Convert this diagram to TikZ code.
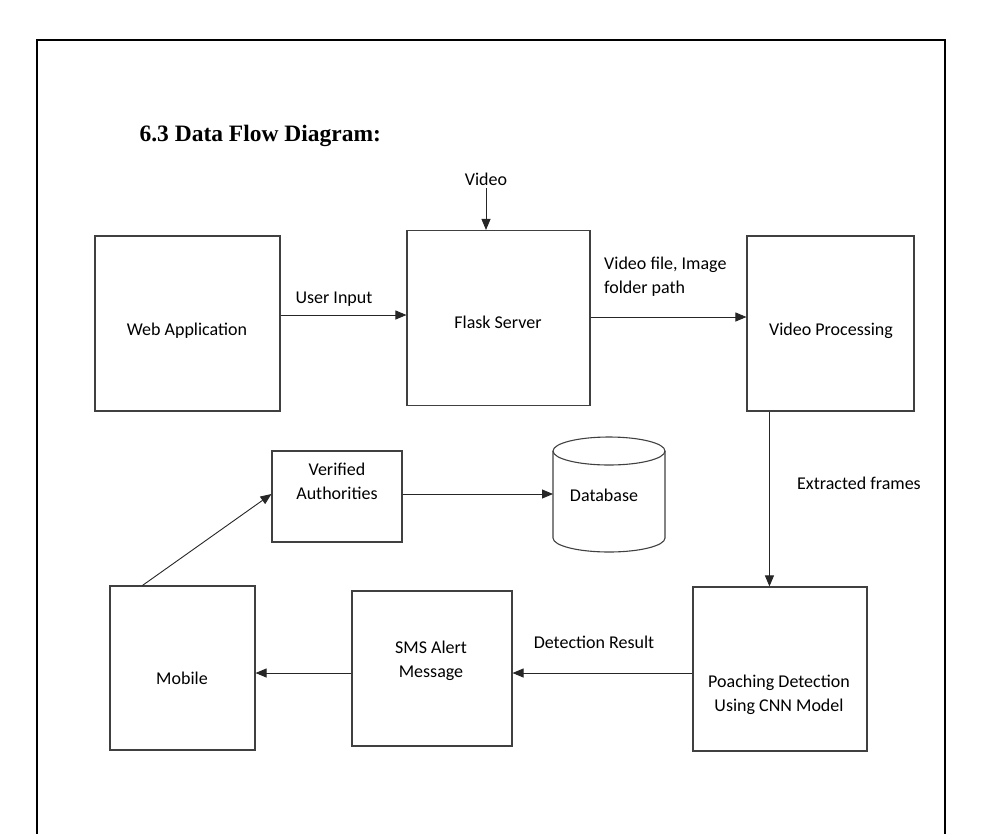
\documentclass[tikz,border=0pt]{standalone}
\usepackage{fontspec}
\setmainfont{Carlito}
\newfontfamily\titlefont{Liberation Serif}
\usetikzlibrary{arrows.meta}

\begin{document}
\begin{tikzpicture}[x=1pt,y=-1pt,
        box/.style={draw=black!75,line width=1.1pt,inner sep=0pt},
        txt/.style={inner sep=0pt,align=center,font=\fontsize{18}{24}\selectfont},
        flow/.style={draw=black!85,line width=0.9pt,-{Triangle[length=11pt,width=9pt]}}]
    \useasboundingbox (0,0) rectangle (982,833);
    %% page frame
    \draw[line width=1.1pt] (37,834) -- (37,40) -- (945,40) -- (945,834);
    \node[anchor=base west,font=\titlefont\bfseries\fontsize{23.5}{28}\selectfont] (title) at (136,141) {6.3 Data Flow Diagram:};

    %% top row
    \node[box,minimum width=185pt,minimum height=175pt] (web) at (187.5,323.5) {};
    \node[txt,anchor=base] (webtxt) at (187,335) {Web Application};
    \node[box,minimum width=183pt,minimum height=175pt] (flask) at (498.5,318) {};
    \node[txt,anchor=base] (flasktxt) at (498,328) {Flask Server};
    \node[box,minimum width=167pt,minimum height=175pt] (vp) at (830.5,323.5) {};
    \node[txt,anchor=base] (vptxt) at (831,335) {Video Processing};
    \node[txt,anchor=base] (video) at (486,185) {Video};

    %% middle row
    \node[box,minimum width=130pt,minimum height=91pt] (auth) at (337,496.5) {};
    \node[txt] (authtxt) at (337,481) {Verified\\Authorities};
    \node[txt,anchor=base] (db) at (604,501) {Database};
    \draw[box] (553,451) -- (553,538) arc[start angle=180,end angle=360,x radius=56pt,y radius=14pt] -- (665,451);
    \draw[box] (609,451) ellipse [x radius=56pt,y radius=14pt];
    \coordinate (dbin) at (553,494);

    %% bottom row
    \node[box,minimum width=145pt,minimum height=164pt] (mobile) at (182.5,668) {};
    \node[txt,anchor=base] (mobiletxt) at (182,684) {Mobile};
    \node[box,minimum width=160pt,minimum height=155pt] (sms) at (432,668.5) {};
    \node[txt] (smstxt) at (431,661) {SMS Alert\\Message};
    \node[box,minimum width=174pt,minimum height=164pt] (poach) at (780,669) {};
    \node[txt] (poachtxt) at (779,695) {Poaching Detection\\Using CNN Model};

    %% flows
    \draw[flow] (video) ++(0,9) coordinate (vtop) -- (vtop |- flask.north);
    \draw[flow] ([yshift=3pt]web.east |- flask.west) -- ([yshift=3pt]flask.west);
    \node[txt,anchor=base] (userin) at (334,303) {User Input};
    \draw[flow] ([yshift=1pt]flask.east) -- ([yshift=1pt]flask.east -| vp.west);
    \node[txt,anchor=west,align=left] (vflbl) at (604,277) {Video file, Image\\folder path};
    \draw[flow] ([xshift=23pt]vp.south west) -- ([xshift=23pt]vp.south west |- poach.north);
    \node[txt,anchor=base west] (exlbl) at (797,489) {Extracted frames};
    \draw[flow] ([yshift=-4pt]poach.west) -- ([yshift=-4pt]poach.west -| sms.east);
    \node[txt,anchor=base] (detlbl) at (594,648) {Detection Result};
    \draw[flow] ([yshift=-4.5pt]sms.west) -- ([yshift=-4.5pt]sms.west -| mobile.east);
    \draw[flow] ([xshift=33pt]mobile.north west) -- ([yshift=2.5pt]auth.west);
    \draw[flow] ([yshift=2.5pt]auth.east) -- (dbin);
\end{tikzpicture}
\end{document}
